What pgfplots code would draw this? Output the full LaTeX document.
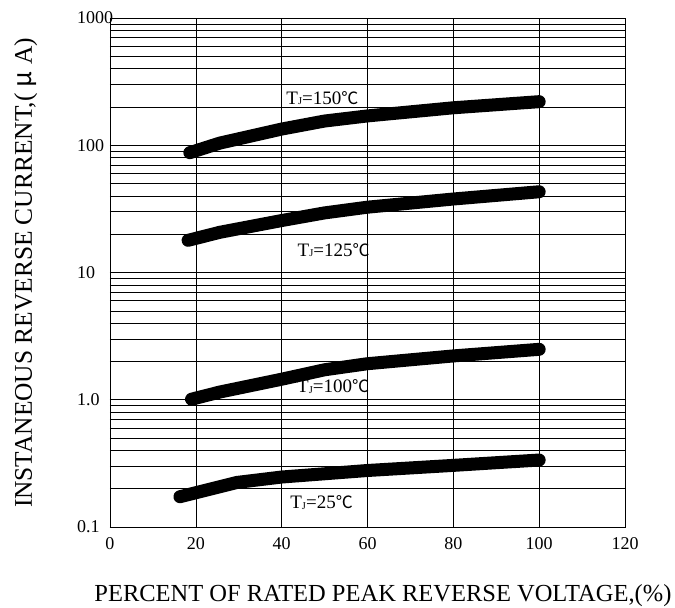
\documentclass[border=0pt]{standalone}
\usepackage{pgfplots}
\pgfplotsset{compat=1.18}
\usepackage{fontspec}
\setmainfont{Liberation Serif}
\newfontfamily\cjk{Noto Sans CJK SC}

% curve labels: T with small subscript J, degree-Celsius sign from the CJK font
\newcommand{\tj}[1]{T\raisebox{-0.1ex}{\scalebox{0.55}{J}}=#1{\cjk\fontsize{17bp}{19bp}\selectfont ℃}}

\begin{document}
\begin{tikzpicture}
\useasboundingbox (-110bp,-81bp) rectangle (565bp,527bp);
\begin{axis}[
    scale only axis,
    width=515bp, height=509bp,
    xmin=0, xmax=120,
    ymode=log, ymin=0.1, ymax=1000,
    xtick={0,20,40,60,80,100,120},
    xticklabels={0,20,40,60,80,100,120},
    ytick={0.1,1,10,100,1000},
    yticklabels={0.1,1.0,10,100,1000},
    /pgf/number format/assume math mode=true,
    major tick length=0pt, minor tick length=0pt,
    grid=both,
    major grid style={black, line width=0.6bp},
    minor grid style={black, line width=0.6bp},
    axis line style={black, line width=0.8bp},
    ticklabel style={font=\fontsize{18bp}{20bp}\selectfont},
    yticklabel style={anchor=west, inner sep=0pt, xshift=-33bp},
    xticklabel style={anchor=north, inner sep=0pt, yshift=-10bp},
    xlabel={PERCENT OF RATED PEAK REVERSE VOLTAGE,(\%)},
    xlabel style={font=\fontsize{24.5bp}{26bp}\selectfont,
        at={(axis description cs:0.53,-0.1473)}, anchor=base},
    ylabel={INSTANEOUS REVERSE CURRENT,( {\cjk μ} A)},
    ylabel style={font=\fontsize{25.4bp}{27bp}\selectfont,
        at={(axis description cs:-0.1515,0.499)}, anchor=base, rotate=0},
    clip=false,
]
% TJ = 150 C
\addplot[black, line width=13bp, line cap=round, line join=round] coordinates {
    (18.6,87.4) (25.6,104) (40,134) (50,155) (60,170) (80,197) (100,220)
};
% TJ = 125 C
\addplot[black, line width=13bp, line cap=round, line join=round] coordinates {
    (18.2,17.9) (25.6,20.7) (40,25.6) (50,29.4) (60,32.6) (80,37.8) (100,43.1)
};
% TJ = 100 C
\addplot[black, line width=13bp, line cap=round, line join=round] coordinates {
    (19.0,1.01) (25.6,1.15) (40,1.45) (50,1.72) (60,1.92) (80,2.21) (100,2.49)
};
% TJ = 25 C
\addplot[black, line width=13bp, line cap=round, line join=round] coordinates {
    (16.3,0.173) (29.6,0.224) (40,0.247) (60,0.278) (80,0.305) (100,0.336)
};
\node[font=\fontsize{19bp}{21bp}\selectfont, inner sep=0pt] at (axis cs:49.5,235) {\tj{150}};
\node[font=\fontsize{19bp}{21bp}\selectfont, inner sep=0pt] at (axis cs:52.1,15.0) {\tj{125}};
\node[font=\fontsize{19bp}{21bp}\selectfont, inner sep=0pt] at (axis cs:52,1.27) {\tj{100}};
\node[font=\fontsize{19bp}{21bp}\selectfont, inner sep=0pt] at (axis cs:49.3,0.155) {\tj{25}};
\end{axis}
\end{tikzpicture}
\end{document}
